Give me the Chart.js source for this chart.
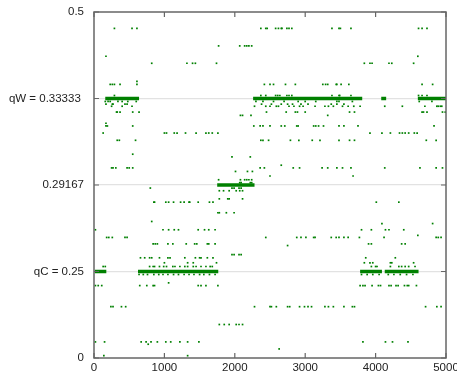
<!DOCTYPE html>
<html>
<head>
<meta charset="utf-8">
<script src="https://cdn.jsdelivr.net/npm/chart.js@4"></script>
<style>
  html, body { margin: 0; padding: 0; background: #fff; }
  #wrap { width: 457px; height: 377px; }
</style>
</head>
<body>
<div id="wrap"><canvas id="qChart"></canvas></div>
<script>
// axis ticks
const xTickValues = [0, 1000, 2000, 3000, 4000, 5000];
const yTickValues = [0, 0.25, 0.29167, 0.33333, 0.5];
const yTickLabels = ["0", "qC = 0.25", "0.29167", "qW = 0.33333 ", "0.5"];

// steady runs (dense bands of points)
const runLevels = [0.25, 0.25, 0.25, 0.25, 0.29167, 0.33333, 0.33333, 0.33333, 0.33333];
const runStarts = [10, 625, 3780, 4130, 1750, 160, 2260, 4080, 4600];
const runEnds   = [175, 1765, 4090, 4610, 2280, 640, 3810, 4150, 5000];

// scattered samples: one y level per row, x positions for that row
const pointLevels = [
  0.4684, 0.4347, 0.4147, 0.4012, 0.3663, 0.3605, 0.3391, 0.3319, 0.3306, 0.3296,
  0.3268, 0.3252, 0.3214, 0.3201, 0.3167, 0.3132, 0.3065, 0.3052, 0.3012, 0.2999,
  0.2982, 0.2960, 0.2942, 0.2928, 0.2902, 0.2889, 0.2850, 0.2834, 0.2783, 0.2741,
  0.2731, 0.2701, 0.2674, 0.2664, 0.2633, 0.2625, 0.2581, 0.2566, 0.2542, 0.2524,
  0.2413, 0.2172, 0.2093, 0.1483, 0.0968, 0.0465, 0.0398, 0.0262, 0.0067, 0
];
const pointRows = [
  [290, 540, 610, 2370, 2440, 2460, 2580, 2620, 2660, 2670, 2740, 2770, 2810, 3380, 3480, 3500, 3650, 4610, 4660, 4730],
  [1770, 2070, 2140, 2170, 2200, 2240],
  [170, 4600],
  [820, 1320, 1400, 1440, 1740, 3840, 3920, 3950, 4190, 4230, 4540],
  [610],
  [230, 260, 290, 370, 610, 2420, 2500, 2550, 2720, 2860, 3250, 3290, 3320, 3440, 3450, 3510, 3620, 4660, 4810],
  [290, 2370, 2440, 2580, 2610, 2640, 2740, 2770, 2810, 3380, 3480, 3490, 3650, 4610, 4660, 4730],
  [160, 200, 230, 340, 400, 480, 600, 2300, 2400, 2550, 2700, 2900, 3000, 3150, 3450, 3480, 3670, 4620, 4800],
  [170, 260, 270, 440, 470, 2380, 2520, 2660, 2750, 2820, 2940, 3040, 3370, 3450, 3550],
  [250, 400, 540, 2280, 2440, 2500, 2590, 2620, 2770, 2840, 2920, 2970, 3140, 3280, 3330, 3400, 3530, 3610, 3690, 3780, 4130, 4380, 4700, 4870, 4890, 4920, 4940],
  [320, 330, 370, 550, 640, 2450, 2730, 2860, 2890, 3000, 3630, 3700, 4660, 4680, 4730, 4950, 4990],
  [2080, 2110, 2230, 3320],
  [170],
  [170, 190, 550, 2270, 2360, 2400, 2500, 2660, 2710, 2880, 2900, 3120, 3150, 3190, 3260, 3480, 3550, 3750, 4830],
  [130, 1000, 1030, 1140, 1180, 1300, 1450, 1590, 1630, 1680, 1760, 3920, 4090, 4210, 4340, 4380, 4420, 4470, 4550, 4590],
  [330, 360, 590, 2370, 2400, 2480, 2790, 2910, 3100, 3210, 3480, 3630, 3700, 4720, 4860],
  [550],
  [1960, 2220],
  [2660],
  [250, 270, 310, 470, 500, 550, 2360, 2420, 2830, 2920, 3240, 3320, 3450, 3530, 3650, 4130, 4630, 4860, 4950],
  [2010, 2180, 2250],
  [2500, 3680],
  [1770, 2080, 2140, 2170, 2200, 2240],
  [2070, 2090, 2220, 2240],
  [800, 1960, 1990, 2060, 2090],
  [1780, 1840, 1920, 2020, 2070, 2110],
  [1780, 1900, 1920, 2110],
  [850, 860, 1020, 1060, 1130, 1230, 1280, 1350, 1360, 1480, 1640, 1690, 4010, 4330],
  [1760, 1780, 1880, 1990],
  [820],
  [4090, 4810],
  [20, 980, 1060, 1140, 1200, 1480, 1570, 1630, 1720, 3800, 3940, 4140, 4190, 4400],
  [4600],
  [180, 210, 260, 440, 470, 2440, 2880, 2940, 3010, 3120, 3140, 3370, 3440, 3480, 3550, 3610, 3770, 4120, 4860, 4890, 4930],
  [840, 870, 900, 1050, 1120, 1310, 1430, 1460, 1610, 1630, 1720, 3900, 3940, 4370, 4420],
  [2750],
  [1960, 1990, 2060, 2090],
  [660, 720, 790, 820, 930, 1050, 1080, 1290, 1440, 1500, 1520, 1610, 1690, 3860, 4280],
  [1000, 1330, 1410, 1740, 3840, 3920, 3960, 4210, 4230, 4540],
  [130, 160, 790, 840, 860, 930, 990, 1030, 1120, 1150, 1220, 1290, 1330, 1410, 1450, 1520, 1590, 1650, 1680, 3940, 4000, 4020, 4210, 4330, 4370, 4420, 4470, 4560],
  [640, 700, 760, 850, 920, 980, 1050, 1130, 1200, 1280, 1350, 1420, 1500, 1560, 1640, 1720, 3800, 3880, 3960, 4050, 4180, 4260, 4350, 4440, 4530],
  [1060],
  [20, 60, 110, 650, 750, 840, 860, 1480, 1520, 1590, 1760, 3780, 3820, 3850, 3950, 4040, 4070, 4190, 4220, 4290, 4320, 4410, 4450, 4470, 4580],
  [240, 270, 390, 450, 2280, 2500, 2520, 2590, 2750, 2780, 2920, 2990, 3040, 3090, 3280, 3330, 3400, 3550, 3670, 3700, 4710, 4870, 4930],
  [1780, 1850, 1920, 2020, 2060, 2110],
  [20, 150, 670, 740, 810, 900, 1020, 1090, 1220, 1330, 1490, 3820, 4140, 4240, 4460],
  [770],
  [2630],
  [140, 1330],
  [10]
];

const GREEN = "rgb(0,128,0)";
const FRAME = "#666";

// y axis: tick values are evenly spaced, linear between neighbouring ticks
function toFrac(v) {
  const n = yTickValues.length;
  if (v <= yTickValues[0]) return 0;
  for (let i = 0; i < n - 1; i++) {
    const a = yTickValues[i], b = yTickValues[i + 1];
    if (v <= b) return (i + (v - a) / (b - a)) / (n - 1);
  }
  return 1;
}
function fromFrac(f) {
  const n = yTickValues.length;
  const p = Math.max(0, Math.min(n - 1, f * (n - 1)));
  const i = Math.min(n - 2, Math.floor(p));
  return yTickValues[i] + (p - i) * (yTickValues[i + 1] - yTickValues[i]);
}

class PiecewiseScale extends Chart.LinearScale {
  buildTicks() {
    return yTickValues.map(v => ({ value: v }));
  }
  getPixelForValue(value) {
    return this.getPixelForDecimal(toFrac(value));
  }
  getValueForPixel(pixel) {
    return fromFrac(this.getDecimalForPixel(pixel));
  }
}
PiecewiseScale.id = "piecewise";
PiecewiseScale.defaults = Chart.LinearScale.defaults;
Chart.register(PiecewiseScale);

// build datasets
const scatterPoints = [];
pointLevels.forEach((lvl, i) => {
  pointRows[i].forEach(x => scatterPoints.push({ x: x, y: lvl }));
});

const datasets = [{
  type: "scatter",
  data: scatterPoints,
  pointStyle: "rect",
  pointRadius: 1.2,
  pointHoverRadius: 1.2,
  backgroundColor: GREEN,
  borderWidth: 0,
  order: 2
}];
runLevels.forEach((lvl, i) => {
  datasets.push({
    type: "line",
    data: [{ x: runStarts[i], y: lvl }, { x: runEnds[i], y: lvl }],
    borderColor: GREEN,
    borderWidth: 3.5,
    pointRadius: 0,
    fill: false,
    order: 1
  });
});

// frame with inward tick marks on all four sides
const framePlugin = {
  id: "frame",
  afterDatasetsDraw(chart) {
    const { ctx, chartArea: a, scales } = chart;
    ctx.save();
    ctx.strokeStyle = FRAME;
    ctx.lineWidth = 1.5;
    ctx.strokeRect(a.left, a.top, a.right - a.left, a.bottom - a.top);
    ctx.lineWidth = 1.2;
    ctx.beginPath();
    xTickValues.forEach(v => {
      const px = scales.x.getPixelForValue(v);
      ctx.moveTo(px, a.bottom); ctx.lineTo(px, a.bottom - 5);
      ctx.moveTo(px, a.top); ctx.lineTo(px, a.top + 5);
    });
    yTickValues.forEach(v => {
      const py = scales.y.getPixelForValue(v);
      ctx.moveTo(a.left, py); ctx.lineTo(a.left + 5, py);
      ctx.moveTo(a.right, py); ctx.lineTo(a.right - 5, py);
    });
    ctx.stroke();
    ctx.restore();
  }
};

const tickFont = { family: "'Liberation Sans', Arial, sans-serif", size: 11.5 };

new Chart(document.getElementById("qChart"), {
  type: "scatter",
  data: { datasets: datasets },
  options: {
    responsive: true,
    maintainAspectRatio: false,
    animation: false,
    events: [],
    layout: { padding: { left: 0, right: 11, top: 12, bottom: 0 } },
    plugins: { legend: { display: false }, tooltip: { enabled: false } },
    scales: {
      x: {
        type: "linear",
        min: 0,
        max: 5000,
        afterBuildTicks: scale => { scale.ticks = xTickValues.map(v => ({ value: v })); },
        ticks: {
          color: "#222", font: tickFont, padding: 3, maxRotation: 0, autoSkip: false,
          callback: v => String(v)
        },
        grid: { display: false, drawTicks: false },
        border: { display: false },
        afterFit: scale => {
          scale.height = 19;
          scale.paddingLeft = 0;
          scale.paddingRight = 0;
        }
      },
      y: {
        type: "piecewise",
        min: 0,
        max: 0.5,
        ticks: {
          color: "#222",
          font: tickFont,
          padding: 10,
          autoSkip: false,
          callback: (value, i) => yTickLabels[i]
        },
        grid: {
          drawTicks: false,
          lineWidth: 1.2,
          color: ctx => (ctx.index === 0 || ctx.index === yTickValues.length - 1) ? "rgba(0,0,0,0)" : "#e2e2e2"
        },
        border: { display: false },
        afterFit: scale => {
          scale.width = 94;
          scale.paddingTop = 0;
          scale.paddingBottom = 0;
        }
      }
    }
  },
  plugins: [framePlugin]
});
</script>
</body>
</html>
